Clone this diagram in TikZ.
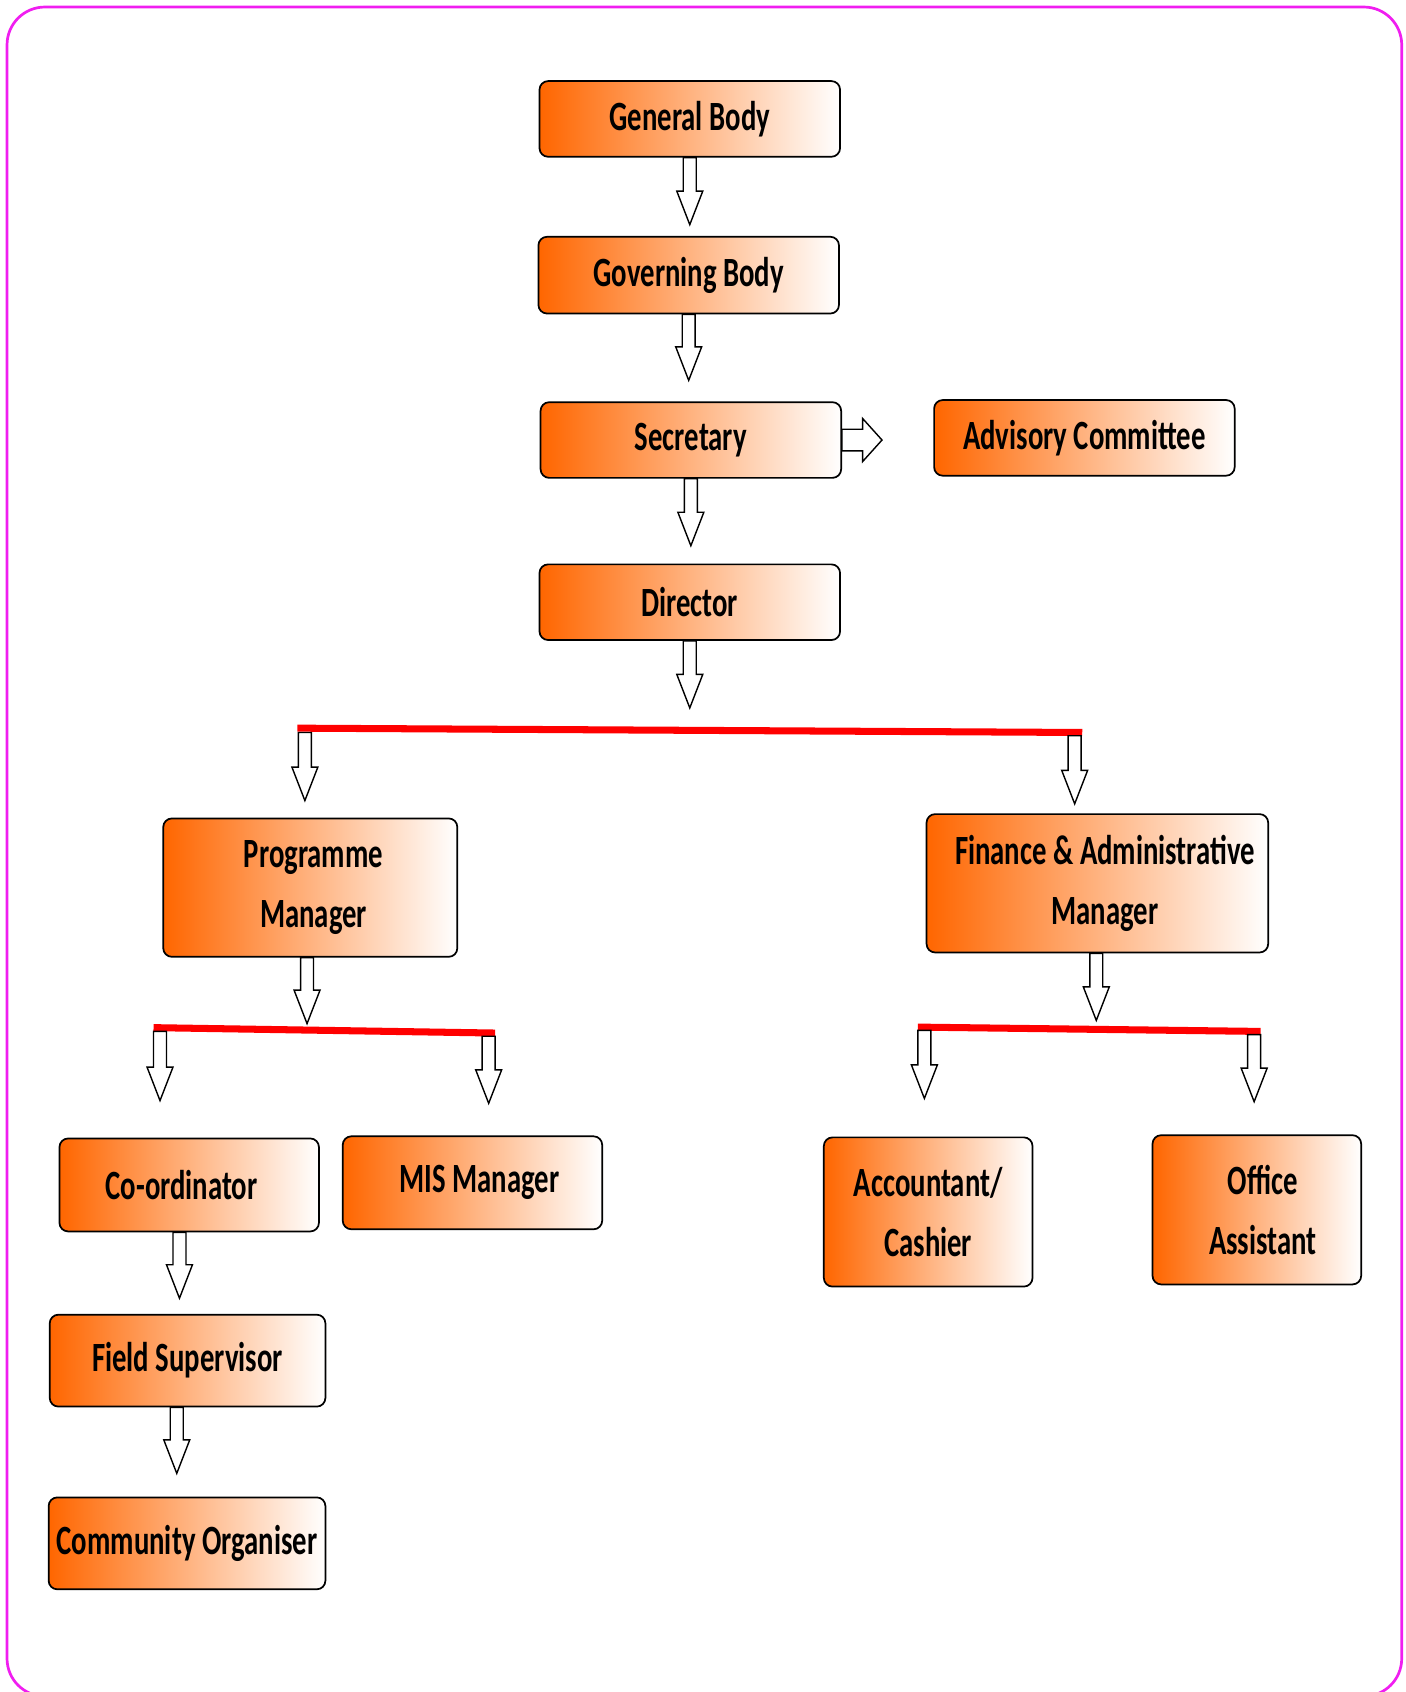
\documentclass[tikz,border=0pt]{standalone}
\usepackage{fontspec}
\setmainfont{Carlito}[FakeStretch=0.69]
\usetikzlibrary{calc}
\definecolor{orng}{RGB}{255,102,0}
\definecolor{mgnt}{RGB}{240,30,240}
\definecolor{redln}{RGB}{255,0,0}
% vertical block arrow: start point, total length (downwards)
\newcommand\vbarrow[2]{\draw[blockarrow] ($#1+(-6,0)$) -- ++(0,{#2-31}) -- ++(-6,0) -- ($#1+(0,#2)$) -- ($#1+(12,{#2-31})$) -- ++(-6,0) -- ($#1+(6,0)$) -- cycle;}
% horizontal block arrow: start point, total length (rightwards)
\newcommand\hbarrow[2]{\draw[blockarrow] ($#1+(0,-10)$) -- ++({#2-18},0) -- ++(0,-10) -- ($#1+(#2,0)$) -- ($#1+({#2-18},20)$) -- ++(0,-10) -- ($#1+(0,10)$) -- cycle;}
\begin{document}
\begin{tikzpicture}[x=1pt,y=-1pt,
  box/.style={draw=black, line width=1.6pt, rounded corners=8pt,
    left color=orng, right color=white, align=center, inner sep=0pt,
    font=\fontsize{38.5}{56}\selectfont\bfseries, text=black},
  blockarrow/.style={draw=black, fill=white, line width=1.3pt, line join=miter},
  redline/.style={draw=redln, line width=6.5pt}]
\useasboundingbox (0,0) rectangle (1300,1565);
\draw[mgnt, line width=2.5pt, rounded corners=35pt] (6.5,6.5) rectangle (1296.5,1569);

% boxes
\node[box, minimum width=278pt, minimum height=70pt] (gb)  at (638,110) {General Body};
\node[box, minimum width=278pt, minimum height=71pt] (gov) at (637,254.5) {Governing Body};
\node[box, minimum width=278pt, minimum height=70pt] (sec) at (639,407) {Secretary};
\node[box, minimum width=278pt, minimum height=70pt] (adv) at (1003,405) {Advisory Committee};
\node[box, minimum width=278pt, minimum height=70pt] (dir) at (638,557) {Director};
\node[box, minimum width=272pt, minimum height=128pt] (pm) at (287,821) {\hspace*{6pt}Programme\\\hspace*{6pt}Manager};
\node[box, minimum width=316pt, minimum height=128pt] (fam) at (1015,817) {\hspace*{14pt}Finance \& Administrative\\\hspace*{14pt}Manager};
\node[box, minimum width=240pt, minimum height=86pt] (co)  at (175,1096) {Co-ordinator\hspace*{14pt}};
\node[box, minimum width=240pt, minimum height=86pt] (mis) at (437,1094) {\hspace*{13pt}MIS Manager};
\node[box, minimum width=193pt, minimum height=138pt] (acc) at (858.5,1121) {Accountant/\\Cashier};
\node[box, minimum width=193pt, minimum height=138pt] (oa)  at (1162.5,1119) {\hspace*{11pt}Office\\\hspace*{11pt}Assistant};
\node[box, minimum width=255pt, minimum height=85pt] (fs)  at (173.5,1258.5) {Field Supervisor};
\node[box, minimum width=256pt, minimum height=85pt] (com) at (173,1427.5) {Community Organiser};

% red branch lines
\coordinate (r1a) at (275,673.5);
\coordinate (r1b) at (1001,677.5);
\coordinate (r2a) at (142,950.5);
\coordinate (r2b) at (458,955.5);
\coordinate (r3a) at (849,950);
\coordinate (r3b) at (1166,954);
\draw[redline] (r1a) -- (r1b);
\draw[redline] (r2a) -- (r2b);
\draw[redline] (r3a) -- (r3b);

% arrow start points
\coordinate (s1) at (282,677.5);
\coordinate (s2) at (994,680.5);
\coordinate (s3) at (148,954);
\coordinate (s4) at (452,958.5);
\coordinate (s5) at (855,953);
\coordinate (s6) at (1160,957);
\coordinate (pmo) at ($(pm.south)+(-3,0)$);
\coordinate (famo) at ($(fam.south)+(-1,0)$);
\coordinate (coo) at ($(co.south)+(-9,0)$);
\coordinate (fso) at ($(fs.south)+(-10,0)$);

% block arrows
\vbarrow{(gb.south)}{62}
\vbarrow{(gov.south)}{61}
\vbarrow{(sec.south)}{62}
\vbarrow{(dir.south)}{62}
\hbarrow{(sec.east)}{37}
\vbarrow{(s1)}{63}
\vbarrow{(s2)}{63}
\vbarrow{(pmo)}{61}
\vbarrow{(s3)}{64}
\vbarrow{(s4)}{62}
\vbarrow{(famo)}{62}
\vbarrow{(s5)}{63}
\vbarrow{(s6)}{62}
\vbarrow{(coo)}{61}
\vbarrow{(fso)}{61}
\end{tikzpicture}
\end{document}
